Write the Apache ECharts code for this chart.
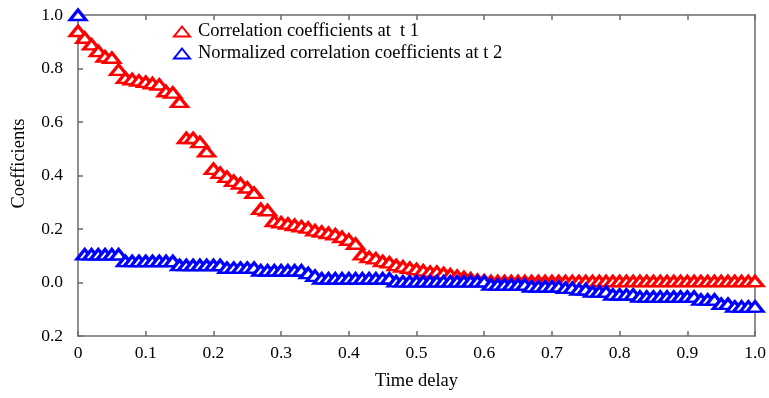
<!DOCTYPE html>
<html>
<head>
<meta charset="utf-8">
<script src="https://cdn.jsdelivr.net/npm/echarts@6/dist/echarts.min.js"></script>
<style>html,body{margin:0;padding:0;background:#fff}#c{width:769px;height:398px}</style>
</head>
<body>
<div id="c"></div>
<script>
var timeDelay = [];
for (var i = 0; i <= 100; i++) timeDelay.push(+(i / 100).toFixed(2));

var corrT1 = [
  0.94, 0.915, 0.89, 0.865, 0.845, 0.84, 0.795, 0.765, 0.76, 0.755,
  0.75, 0.745, 0.74, 0.715, 0.71, 0.675, 0.54, 0.54, 0.525, 0.49,
  0.425, 0.41, 0.395, 0.38, 0.37, 0.355, 0.335, 0.275, 0.27, 0.23,
  0.225, 0.22, 0.215, 0.21, 0.205, 0.195, 0.19, 0.185, 0.18, 0.17,
  0.16, 0.145, 0.105, 0.095, 0.09, 0.08, 0.075, 0.065, 0.06, 0.055,
  0.05, 0.045, 0.04, 0.04, 0.035, 0.03, 0.025, 0.02, 0.015, 0.01,
  0.008, 0.005, 0.005, 0.005, 0.005, 0.005, 0.005, 0.005, 0.005, 0.005,
  0.005, 0.005, 0.005, 0.005, 0.005, 0.005, 0.005, 0.005, 0.005, 0.005,
  0.005, 0.005, 0.005, 0.005, 0.005, 0.005, 0.005, 0.005, 0.005, 0.005,
  0.005, 0.005, 0.005, 0.005, 0.005, 0.005, 0.005, 0.005, 0.005, 0.005,
  0.005
];

var normCorrT2 = [
  1.0, 0.105, 0.105, 0.105, 0.105, 0.105, 0.105, 0.08, 0.08, 0.08,
  0.08, 0.08, 0.08, 0.08, 0.08, 0.065, 0.065, 0.065, 0.065, 0.065,
  0.065, 0.065, 0.055, 0.055, 0.055, 0.055, 0.055, 0.045, 0.045, 0.045,
  0.045, 0.045, 0.045, 0.045, 0.035, 0.025, 0.015, 0.015, 0.015, 0.015,
  0.015, 0.015, 0.015, 0.015, 0.015, 0.015, 0.015, 0.004, 0.004, 0.004,
  0.004, 0.004, 0.004, 0.004, 0.004, 0.004, 0.004, 0.004, 0.004, 0.004,
  0.004, -0.008, -0.008, -0.008, -0.008, -0.008, -0.008, -0.015, -0.015, -0.015,
  -0.015, -0.015, -0.02, -0.02, -0.026, -0.026, -0.034, -0.034, -0.034, -0.045,
  -0.045, -0.045, -0.045, -0.053, -0.053, -0.053, -0.053, -0.053, -0.053, -0.053,
  -0.053, -0.053, -0.064, -0.064, -0.064, -0.08, -0.08, -0.09, -0.09, -0.09,
  -0.09
];

var xTickLabels = ['0', '0.1', '0.2', '0.3', '0.4', '0.5', '0.6', '0.7', '0.8', '0.9', '1.0'];
var yTickLabels = { '-0.2': '0.2', '0': '0.0', '0.2': '0.2', '0.4': '0.4', '0.6': '0.6', '0.8': '0.8', '1': '1.0' };

function pairs(xs, ys) { return xs.map(function (x, i) { return [x, ys[i]]; }); }

var font = 'Liberation Serif';
var axisColor = '#6b6b6b';
var markSize = [16, 10];
var markBorder = 3;

var chart = echarts.init(document.getElementById('c'), null, { renderer: 'canvas' });
chart.setOption({
  backgroundColor: '#fff',
  animation: false,
  textStyle: { fontFamily: font, color: '#000' },
  grid: { left: 78, right: 7, top: 15, bottom: 62 },
  legend: {
    orient: 'vertical', left: 168, top: 17, itemWidth: 16, itemHeight: 10, itemGap: 3,
    textStyle: { fontFamily: font, fontSize: 18.5, color: '#000', padding: [0, 0, 0, 3] },
    data: ['Correlation coefficients at  t 1', 'Normalized correlation coefficients at t 2']
  },
  xAxis: [{
    type: 'value', min: 0, max: 1, interval: 0.1,
    name: 'Time delay', nameLocation: 'middle', nameGap: 36,
    nameTextStyle: { fontFamily: font, fontSize: 18.5, color: '#000' },
    axisLine: { show: true, onZero: false, lineStyle: { color: axisColor, width: 1.5 } },
    axisTick: { show: true, inside: true, length: 5, lineStyle: { color: axisColor, width: 1.5 } },
    axisLabel: { fontFamily: font, fontSize: 17.5, color: '#000', margin: 8,
      formatter: function (v) { return xTickLabels[Math.round(v * 10)]; } },
    splitLine: { show: false }
  }, {
    type: 'value', position: 'top', min: 0, max: 1, interval: 0.1,
    axisLine: { show: true, onZero: false, lineStyle: { color: axisColor, width: 1.5 } },
    axisTick: { show: true, inside: true, length: 5, lineStyle: { color: axisColor, width: 1.5 } },
    axisLabel: { show: false }, splitLine: { show: false }
  }],
  yAxis: [{
    type: 'value', min: -0.2, max: 1, interval: 0.2,
    name: 'Coefficients', nameLocation: 'middle', nameGap: 49, nameRotate: 90,
    nameTextStyle: { fontFamily: font, fontSize: 18.5, color: '#000', padding: [0, 0, 0, 24] },
    axisLine: { show: true, onZero: false, lineStyle: { color: axisColor, width: 1.5 } },
    axisTick: { show: true, inside: true, length: 5, lineStyle: { color: axisColor, width: 1.5 } },
    axisLabel: { fontFamily: font, fontSize: 17.5, color: '#000', margin: 15,
      formatter: function (v) { return yTickLabels[String(Math.round(v * 10) / 10)]; } },
    splitLine: { show: false }
  }, {
    type: 'value', position: 'right', min: -0.2, max: 1, interval: 0.2,
    axisLine: { show: true, onZero: false, lineStyle: { color: axisColor, width: 1.5 } },
    axisTick: { show: false }, axisLabel: { show: false }, splitLine: { show: false }
  }],
  series: [{
    name: 'Correlation coefficients at  t 1', type: 'scatter', clip: false,
    symbol: 'triangle', symbolSize: markSize,
    itemStyle: { color: '#fff', borderColor: '#ff0000', borderWidth: markBorder, opacity: 1 },
    data: pairs(timeDelay, corrT1)
  }, {
    name: 'Normalized correlation coefficients at t 2', type: 'scatter', clip: false,
    symbol: 'triangle', symbolSize: markSize,
    itemStyle: { color: '#fff', borderColor: '#0000ff', borderWidth: markBorder, opacity: 1 },
    data: pairs(timeDelay, normCorrT2)
  }]
});
</script>
</body>
</html>
